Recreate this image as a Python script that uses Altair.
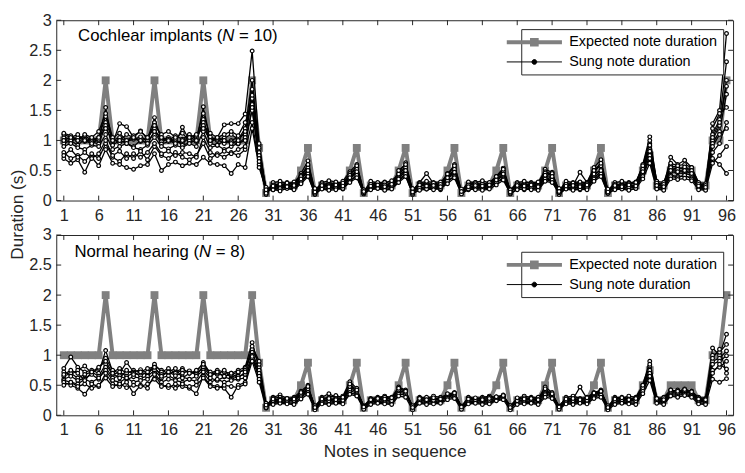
import altair as alt
import pandas as pd

# ---------------- data ----------------
notes = list(range(1, 97))

expected = [1, 1, 1, 1, 1, 1, 2, 1, 1, 1, 1, 1, 1, 2, 1, 1, 1, 1, 1, 1, 2, 1, 1, 1, 1, 1, 1, 2, 0.875, 0.125,
            0.25, 0.25, 0.25, 0.25, 0.5, 0.875, 0.125,
            0.25, 0.25, 0.25, 0.25, 0.5, 0.875, 0.125,
            0.25, 0.25, 0.25, 0.25, 0.5, 0.875, 0.125,
            0.25, 0.25, 0.25, 0.25, 0.5, 0.875, 0.125,
            0.25, 0.25, 0.25, 0.25, 0.5, 0.875, 0.125,
            0.25, 0.25, 0.25, 0.25, 0.5, 0.875, 0.125,
            0.25, 0.25, 0.25, 0.25, 0.5, 0.875, 0.125,
            0.25, 0.25, 0.25, 0.25, 0.5, 0.75, 0.25, 0.25, 0.5, 0.5, 0.5, 0.5, 0.25, 0.25, 1, 1, 2]

# Cochlear implant users (N = 10): sung durations, notes 1-96
ci_p01 = [1.05, 1.02, 1.00, 0.98, 1.04, 1.00, 1.55, 0.95, 1.28, 1.23, 1.05, 1.16, 1.02, 1.38, 1.00, 1.05, 0.95, 1.22, 1.00, 0.98, 1.56, 1.00, 1.05, 1.26, 1.28, 1.28, 1.44, 2.49, 0.92, 0.15,
          0.28, 0.25, 0.30, 0.26, 0.45, 0.66, 0.15, 0.25, 0.30, 0.27, 0.32, 0.48, 0.60, 0.14, 0.26, 0.28, 0.31, 0.27, 0.45, 0.63, 0.16,
          0.30, 0.45, 0.28, 0.26, 0.42, 0.60, 0.15, 0.27, 0.30, 0.25, 0.28, 0.40, 0.54, 0.17, 0.26, 0.29, 0.30, 0.27, 0.52, 0.47, 0.14,
          0.28, 0.25, 0.47, 0.30, 0.55, 0.68, 0.16, 0.28, 0.25, 0.30, 0.27, 0.60, 1.06, 0.30, 0.25, 0.72, 0.60, 0.67, 0.55, 0.28, 0.25, 1.28, 1.50, 2.78]
ci_p02 = [1.10, 1.05, 1.02, 1.08, 1.00, 1.05, 1.40, 1.00, 1.05, 0.98, 1.02, 1.06, 1.00, 1.30, 1.05, 1.00, 1.08, 1.02, 1.10, 1.04, 1.45, 1.06, 1.00, 1.04, 1.10, 1.02, 1.20, 2.00, 0.85, 0.18,
          0.25, 0.28, 0.24, 0.27, 0.40, 0.58, 0.12, 0.27, 0.25, 0.29, 0.26, 0.44, 0.55, 0.13, 0.25, 0.27, 0.25, 0.29, 0.42, 0.58, 0.14,
          0.26, 0.30, 0.25, 0.28, 0.45, 0.55, 0.12, 0.29, 0.26, 0.28, 0.25, 0.38, 0.50, 0.15, 0.27, 0.25, 0.28, 0.26, 0.45, 0.42, 0.13,
          0.25, 0.27, 0.30, 0.28, 0.48, 0.60, 0.14, 0.25, 0.28, 0.26, 0.30, 0.55, 0.95, 0.28, 0.26, 0.58, 0.55, 0.52, 0.50, 0.26, 0.24, 1.10, 1.35, 2.31]
ci_p03 = [1.00, 0.98, 1.05, 1.00, 0.95, 1.02, 1.30, 1.02, 0.96, 1.00, 1.04, 0.98, 1.05, 1.20, 0.98, 1.02, 1.00, 0.95, 1.05, 1.00, 1.35, 0.98, 1.02, 0.95, 1.00, 1.05, 1.10, 1.85, 0.80, 0.12,
          0.22, 0.25, 0.27, 0.24, 0.38, 0.52, 0.13, 0.24, 0.26, 0.23, 0.25, 0.40, 0.50, 0.12, 0.23, 0.25, 0.27, 0.24, 0.40, 0.52, 0.15,
          0.25, 0.27, 0.23, 0.26, 0.38, 0.50, 0.13, 0.24, 0.23, 0.26, 0.25, 0.35, 0.45, 0.14, 0.25, 0.24, 0.23, 0.26, 0.40, 0.38, 0.12,
          0.24, 0.26, 0.25, 0.23, 0.42, 0.52, 0.13, 0.24, 0.26, 0.25, 0.23, 0.50, 0.90, 0.26, 0.24, 0.52, 0.50, 0.48, 0.46, 0.24, 0.22, 1.00, 1.25, 2.00]
ci_p04 = [0.95, 1.00, 0.92, 1.02, 0.98, 0.94, 1.25, 0.92, 1.00, 0.95, 0.90, 1.00, 0.96, 1.15, 0.94, 0.98, 1.02, 0.92, 0.96, 1.00, 1.30, 0.95, 0.92, 1.00, 0.98, 0.94, 1.05, 1.70, 0.75, 0.20,
          0.20, 0.22, 0.25, 0.21, 0.35, 0.48, 0.14, 0.22, 0.20, 0.24, 0.22, 0.36, 0.46, 0.15, 0.21, 0.24, 0.22, 0.20, 0.38, 0.48, 0.13,
          0.22, 0.20, 0.23, 0.21, 0.36, 0.45, 0.14, 0.20, 0.22, 0.21, 0.23, 0.32, 0.42, 0.15, 0.22, 0.21, 0.20, 0.22, 0.38, 0.35, 0.13,
          0.21, 0.22, 0.20, 0.24, 0.38, 0.48, 0.15, 0.22, 0.20, 0.23, 0.21, 0.45, 0.85, 0.22, 0.20, 0.48, 0.46, 0.45, 0.42, 0.22, 0.20, 0.95, 1.15, 1.77]
ci_p05 = [1.12, 1.08, 1.00, 1.10, 1.05, 1.15, 1.45, 1.05, 1.12, 1.00, 1.08, 1.15, 1.05, 1.25, 1.10, 1.15, 1.05, 1.12, 1.00, 1.08, 1.25, 1.12, 1.05, 1.10, 1.15, 1.08, 1.30, 1.60, 0.95, 0.10,
          0.30, 0.32, 0.28, 0.31, 0.42, 0.55, 0.16, 0.30, 0.33, 0.31, 0.28, 0.45, 0.52, 0.15, 0.32, 0.29, 0.30, 0.33, 0.44, 0.55, 0.17,
          0.29, 0.32, 0.30, 0.31, 0.40, 0.52, 0.16, 0.31, 0.30, 0.33, 0.29, 0.38, 0.48, 0.18, 0.30, 0.32, 0.29, 0.31, 0.48, 0.44, 0.16,
          0.32, 0.30, 0.31, 0.29, 0.50, 0.58, 0.17, 0.30, 0.32, 0.29, 0.31, 0.58, 1.00, 0.32, 0.30, 0.62, 0.58, 0.60, 0.55, 0.30, 0.28, 1.20, 1.45, 1.55]
ci_p06 = [0.90, 0.95, 0.88, 0.85, 0.92, 0.90, 1.10, 0.85, 0.90, 0.95, 0.88, 0.85, 0.92, 1.05, 0.90, 0.86, 0.92, 0.88, 0.95, 0.90, 1.15, 0.88, 0.92, 0.85, 0.90, 0.95, 1.00, 1.50, 0.70, 0.22,
          0.18, 0.20, 0.22, 0.19, 0.32, 0.42, 0.10, 0.20, 0.18, 0.21, 0.19, 0.34, 0.40, 0.11, 0.19, 0.21, 0.18, 0.20, 0.33, 0.42, 0.10,
          0.20, 0.19, 0.21, 0.18, 0.32, 0.40, 0.12, 0.18, 0.20, 0.19, 0.21, 0.30, 0.38, 0.11, 0.19, 0.18, 0.20, 0.19, 0.35, 0.32, 0.10,
          0.20, 0.19, 0.18, 0.21, 0.35, 0.42, 0.12, 0.19, 0.21, 0.18, 0.20, 0.42, 0.75, 0.20, 0.18, 0.42, 0.40, 0.41, 0.38, 0.20, 0.18, 0.80, 0.95, 1.30]
ci_p07 = [1.00, 1.05, 1.10, 1.00, 0.95, 1.05, 1.20, 1.00, 1.00, 1.10, 1.05, 1.00, 0.95, 1.15, 1.05, 1.00, 0.95, 1.00, 1.05, 1.10, 1.20, 1.00, 1.05, 1.00, 0.95, 1.00, 1.15, 1.75, 0.88, 0.14,
          0.26, 0.24, 0.29, 0.27, 0.40, 0.60, 0.18, 0.28, 0.26, 0.24, 0.29, 0.42, 0.58, 0.16, 0.27, 0.30, 0.26, 0.25, 0.50, 0.60, 0.18,
          0.28, 0.25, 0.29, 0.27, 0.44, 0.58, 0.17, 0.26, 0.28, 0.27, 0.30, 0.40, 0.52, 0.16, 0.28, 0.26, 0.27, 0.25, 0.46, 0.45, 0.18,
          0.27, 0.29, 0.26, 0.28, 0.50, 0.62, 0.17, 0.27, 0.25, 0.28, 0.30, 0.52, 0.92, 0.29, 0.27, 0.55, 0.52, 0.56, 0.50, 0.27, 0.25, 1.05, 1.30, 1.90]
ci_p08 = [0.80, 0.70, 0.75, 0.65, 0.78, 0.70, 0.95, 0.72, 0.65, 0.78, 0.70, 0.82, 0.68, 0.90, 0.75, 0.70, 0.80, 0.72, 0.68, 0.75, 0.95, 0.70, 0.78, 0.72, 0.80, 0.75, 0.85, 1.30, 0.60, 0.15,
          0.22, 0.20, 0.24, 0.22, 0.30, 0.45, 0.20, 0.22, 0.24, 0.21, 0.23, 0.32, 0.42, 0.18, 0.23, 0.21, 0.22, 0.25, 0.35, 0.44, 0.20,
          0.21, 0.23, 0.22, 0.20, 0.33, 0.40, 0.19, 0.22, 0.21, 0.24, 0.22, 0.30, 0.36, 0.18, 0.21, 0.23, 0.22, 0.24, 0.36, 0.34, 0.20,
          0.22, 0.20, 0.23, 0.22, 0.36, 0.45, 0.19, 0.21, 0.23, 0.22, 0.24, 0.40, 0.70, 0.22, 0.21, 0.40, 0.38, 0.42, 0.36, 0.22, 0.20, 0.70, 0.60, 0.45]
ci_p09 = [0.70, 0.62, 0.68, 0.47, 0.72, 0.58, 0.85, 0.62, 0.60, 0.55, 0.52, 0.58, 0.60, 0.78, 0.50, 0.60, 0.64, 0.58, 0.62, 0.60, 0.72, 0.62, 0.60, 0.58, 0.45, 0.60, 0.55, 1.20, 0.55, 0.18,
          0.18, 0.16, 0.20, 0.18, 0.28, 0.40, 0.12, 0.19, 0.17, 0.18, 0.20, 0.30, 0.38, 0.13, 0.18, 0.20, 0.17, 0.19, 0.30, 0.40, 0.12,
          0.17, 0.19, 0.18, 0.20, 0.28, 0.38, 0.11, 0.19, 0.18, 0.17, 0.19, 0.26, 0.34, 0.12, 0.18, 0.19, 0.18, 0.17, 0.32, 0.30, 0.13,
          0.19, 0.17, 0.19, 0.18, 0.32, 0.40, 0.12, 0.18, 0.19, 0.17, 0.20, 0.36, 0.62, 0.19, 0.17, 0.36, 0.35, 0.37, 0.33, 0.18, 0.17, 0.62, 0.75, 0.90]
ci_p10 = [0.75, 0.85, 0.72, 0.80, 0.70, 0.78, 1.00, 0.75, 0.82, 0.70, 0.78, 0.72, 0.80, 0.95, 0.78, 0.82, 0.75, 0.80, 0.78, 0.72, 1.05, 0.80, 0.75, 0.82, 0.78, 0.85, 0.90, 1.55, 0.65, 0.12,
          0.24, 0.27, 0.23, 0.25, 0.36, 0.50, 0.14, 0.25, 0.23, 0.26, 0.24, 0.38, 0.48, 0.15, 0.24, 0.26, 0.23, 0.27, 0.36, 0.50, 0.14,
          0.26, 0.24, 0.25, 0.23, 0.38, 0.47, 0.15, 0.23, 0.25, 0.24, 0.26, 0.34, 0.44, 0.14, 0.25, 0.24, 0.26, 0.23, 0.42, 0.40, 0.15,
          0.24, 0.25, 0.23, 0.26, 0.44, 0.50, 0.14, 0.25, 0.23, 0.26, 0.24, 0.48, 0.82, 0.25, 0.23, 0.50, 0.48, 0.50, 0.45, 0.24, 0.22, 0.90, 1.10, 1.20]

# Normal hearing listeners (N = 8): sung durations, notes 1-96
nh_p01 = [0.78, 0.97, 0.80, 0.72, 0.75, 0.70, 1.08, 0.72, 0.78, 0.70, 0.75, 0.72, 0.68, 0.82, 0.75, 0.70, 0.72, 0.78, 0.70, 0.72, 0.88, 0.70, 0.75, 0.72, 0.70, 0.75, 0.80, 1.21, 0.80, 0.15,
          0.30, 0.34, 0.28, 0.30, 0.40, 0.50, 0.12, 0.30, 0.36, 0.30, 0.32, 0.56, 0.45, 0.14, 0.28, 0.30, 0.32, 0.30, 0.47, 0.42, 0.13,
          0.30, 0.28, 0.32, 0.30, 0.35, 0.38, 0.14, 0.30, 0.28, 0.30, 0.32, 0.30, 0.34, 0.15, 0.28, 0.32, 0.30, 0.28, 0.47, 0.38, 0.14,
          0.30, 0.32, 0.28, 0.30, 0.38, 0.42, 0.13, 0.30, 0.28, 0.32, 0.30, 0.50, 0.90, 0.28, 0.30, 0.42, 0.40, 0.44, 0.40, 0.30, 0.28, 1.12, 1.00, 1.35]
nh_p02 = [0.72, 0.68, 0.75, 0.82, 0.70, 0.78, 0.95, 0.75, 0.70, 0.88, 0.72, 0.76, 0.70, 0.85, 0.72, 0.78, 0.70, 0.75, 0.72, 0.68, 0.82, 0.72, 0.68, 0.75, 0.62, 0.70, 0.78, 1.10, 0.85, 0.12,
          0.28, 0.30, 0.26, 0.28, 0.36, 0.45, 0.15, 0.28, 0.30, 0.33, 0.29, 0.50, 0.40, 0.16, 0.27, 0.29, 0.30, 0.28, 0.44, 0.40, 0.14,
          0.28, 0.30, 0.27, 0.29, 0.33, 0.36, 0.15, 0.29, 0.27, 0.28, 0.30, 0.30, 0.32, 0.16, 0.27, 0.29, 0.28, 0.30, 0.40, 0.35, 0.15,
          0.29, 0.27, 0.47, 0.28, 0.36, 0.40, 0.14, 0.28, 0.30, 0.27, 0.29, 0.48, 0.80, 0.27, 0.29, 0.40, 0.42, 0.38, 0.40, 0.28, 0.27, 1.00, 1.05, 1.18]
nh_p03 = [0.65, 0.70, 0.62, 0.68, 0.72, 0.65, 0.85, 0.68, 0.72, 0.65, 0.70, 0.66, 0.72, 0.78, 0.68, 0.72, 0.66, 0.70, 0.74, 0.68, 0.80, 0.66, 0.70, 0.65, 0.68, 0.72, 0.75, 1.05, 0.75, 0.18,
          0.25, 0.27, 0.24, 0.26, 0.34, 0.42, 0.12, 0.26, 0.25, 0.28, 0.26, 0.45, 0.38, 0.13, 0.25, 0.27, 0.26, 0.28, 0.40, 0.38, 0.12,
          0.26, 0.25, 0.27, 0.26, 0.32, 0.34, 0.13, 0.27, 0.25, 0.26, 0.25, 0.28, 0.31, 0.12, 0.26, 0.25, 0.27, 0.26, 0.38, 0.33, 0.13,
          0.25, 0.27, 0.26, 0.25, 0.34, 0.38, 0.12, 0.26, 0.25, 0.27, 0.26, 0.45, 0.75, 0.26, 0.25, 0.38, 0.37, 0.39, 0.36, 0.26, 0.25, 0.90, 0.95, 1.07]
nh_p04 = [0.60, 0.65, 0.58, 0.62, 0.68, 0.60, 0.80, 0.62, 0.66, 0.60, 0.64, 0.62, 0.65, 0.75, 0.62, 0.66, 0.60, 0.64, 0.60, 0.65, 0.75, 0.62, 0.58, 0.64, 0.60, 0.65, 0.68, 1.00, 0.70, 0.14,
          0.22, 0.24, 0.23, 0.25, 0.32, 0.40, 0.10, 0.23, 0.25, 0.22, 0.24, 0.42, 0.36, 0.11, 0.24, 0.22, 0.25, 0.23, 0.38, 0.36, 0.10,
          0.23, 0.24, 0.22, 0.25, 0.30, 0.33, 0.11, 0.22, 0.24, 0.23, 0.22, 0.27, 0.30, 0.10, 0.24, 0.23, 0.22, 0.25, 0.36, 0.32, 0.11,
          0.23, 0.22, 0.24, 0.23, 0.32, 0.36, 0.10, 0.22, 0.24, 0.23, 0.25, 0.42, 0.70, 0.24, 0.22, 0.36, 0.35, 0.37, 0.34, 0.24, 0.22, 0.85, 0.90, 0.99]
nh_p05 = [0.58, 0.55, 0.52, 0.60, 0.55, 0.62, 0.75, 0.58, 0.55, 0.62, 0.55, 0.58, 0.60, 0.70, 0.55, 0.60, 0.58, 0.55, 0.60, 0.56, 0.72, 0.55, 0.60, 0.55, 0.58, 0.60, 0.62, 0.95, 0.65, 0.20,
          0.20, 0.22, 0.21, 0.20, 0.30, 0.38, 0.14, 0.21, 0.20, 0.22, 0.21, 0.38, 0.34, 0.13, 0.20, 0.22, 0.21, 0.20, 0.35, 0.34, 0.14,
          0.22, 0.20, 0.21, 0.22, 0.28, 0.30, 0.13, 0.21, 0.22, 0.20, 0.21, 0.25, 0.28, 0.14, 0.20, 0.21, 0.22, 0.20, 0.34, 0.30, 0.13,
          0.21, 0.20, 0.22, 0.21, 0.30, 0.34, 0.14, 0.20, 0.22, 0.21, 0.20, 0.40, 0.65, 0.22, 0.20, 0.34, 0.33, 0.35, 0.32, 0.21, 0.20, 0.75, 0.80, 0.90]
nh_p06 = [0.55, 0.50, 0.45, 0.35, 0.52, 0.48, 0.70, 0.52, 0.48, 0.55, 0.36, 0.50, 0.45, 0.68, 0.50, 0.46, 0.52, 0.48, 0.45, 0.36, 0.65, 0.50, 0.48, 0.45, 0.30, 0.50, 0.55, 0.98, 0.60, 0.16,
          0.18, 0.20, 0.19, 0.18, 0.27, 0.35, 0.09, 0.19, 0.18, 0.20, 0.19, 0.35, 0.32, 0.10, 0.18, 0.20, 0.19, 0.18, 0.32, 0.30, 0.09,
          0.20, 0.18, 0.19, 0.20, 0.26, 0.28, 0.10, 0.19, 0.20, 0.18, 0.19, 0.24, 0.26, 0.09, 0.18, 0.19, 0.20, 0.18, 0.30, 0.28, 0.10,
          0.19, 0.18, 0.20, 0.19, 0.28, 0.30, 0.09, 0.18, 0.20, 0.19, 0.18, 0.36, 0.58, 0.20, 0.18, 0.32, 0.30, 0.33, 0.30, 0.19, 0.18, 0.60, 0.55, 0.61]
nh_p07 = [0.50, 0.55, 0.48, 0.52, 0.45, 0.50, 0.62, 0.48, 0.52, 0.46, 0.50, 0.48, 0.52, 0.60, 0.48, 0.50, 0.45, 0.52, 0.48, 0.50, 0.62, 0.48, 0.45, 0.50, 0.48, 0.46, 0.52, 0.90, 0.55, 0.13,
          0.24, 0.26, 0.25, 0.24, 0.35, 0.44, 0.16, 0.25, 0.24, 0.26, 0.25, 0.48, 0.40, 0.15, 0.24, 0.26, 0.25, 0.24, 0.42, 0.38, 0.16,
          0.26, 0.24, 0.25, 0.26, 0.34, 0.35, 0.15, 0.25, 0.26, 0.24, 0.25, 0.30, 0.32, 0.16, 0.24, 0.25, 0.26, 0.24, 0.42, 0.34, 0.15,
          0.25, 0.24, 0.26, 0.25, 0.36, 0.40, 0.16, 0.24, 0.26, 0.25, 0.24, 0.46, 0.82, 0.26, 0.24, 0.40, 0.38, 0.41, 0.37, 0.25, 0.24, 0.70, 0.85, 0.77]
nh_p08 = [0.68, 0.75, 0.70, 0.58, 0.72, 0.80, 0.90, 0.70, 0.62, 0.75, 0.68, 0.72, 0.78, 0.80, 0.65, 0.72, 0.78, 0.62, 0.70, 0.75, 0.85, 0.68, 0.72, 0.65, 0.70, 0.62, 0.72, 1.15, 0.90, 0.17,
          0.27, 0.25, 0.28, 0.27, 0.38, 0.48, 0.13, 0.27, 0.28, 0.26, 0.30, 0.52, 0.42, 0.14, 0.26, 0.28, 0.27, 0.29, 0.45, 0.40, 0.13,
          0.28, 0.26, 0.29, 0.27, 0.36, 0.37, 0.14, 0.27, 0.29, 0.26, 0.28, 0.31, 0.33, 0.13, 0.29, 0.27, 0.28, 0.26, 0.44, 0.36, 0.14,
          0.27, 0.28, 0.26, 0.29, 0.37, 0.40, 0.13, 0.27, 0.29, 0.26, 0.28, 0.50, 0.85, 0.28, 0.26, 0.42, 0.40, 0.43, 0.39, 0.27, 0.26, 0.95, 1.10, 0.70]

ci_group = [ci_p01, ci_p02, ci_p03, ci_p04, ci_p05, ci_p06, ci_p07, ci_p08, ci_p09, ci_p10]
nh_group = [nh_p01, nh_p02, nh_p03, nh_p04, nh_p05, nh_p06, nh_p07, nh_p08]

x_ticks = [1, 6, 11, 16, 21, 26, 31, 36, 41, 46, 51, 56, 61, 66, 71, 76, 81, 86, 91, 96]
y_ticks = [0, 0.5, 1, 1.5, 2, 2.5, 3]
legend_labels = ["Expected note duration", "Sung note duration"]
ci_label = ["Cochlear implants (", "N", " = 10)"]
nh_label = ["Normal hearing (", "N", " = 8)"]

# ---------------- styling ----------------
FONT = "Liberation Sans"
AX = "#262626"
GRAY = "#808080"
W, H = 687, 183
TICK = 5

EXP_PATH = "M-7,0H7M-0.6,-0.6H0.6V0.6H-0.6Z"
SUNG_PATH = "M-7,0H7M-0.6,0A0.6,0.6 0 1,0 0.6,0A0.6,0.6 0 1,0 -0.6,0Z"


def make_panel(group, label, n_x, label_y, show_xtitle, show_ytitle, leg_y):
    exp_df = pd.DataFrame({"note": notes, "dur": expected})
    rows = []
    for pid, vals in enumerate(group):
        for n, v in zip(notes, vals):
            rows.append({"note": n, "dur": v, "pid": pid})
    sung_df = pd.DataFrame(rows)

    xscale = alt.Scale(domain=[-0.08, 96.94], nice=False, zero=False)
    yscale = alt.Scale(domain=[0, 3], nice=False)
    if show_xtitle:
        xaxis = alt.Axis(values=x_ticks, title="Notes in sequence", labelPadding=7, titlePadding=4)
    else:
        xaxis = alt.Axis(values=x_ticks, title=None, labelPadding=7)
    if show_ytitle:
        yaxis = alt.Axis(values=y_ticks, format="~g", title="Duration (s)", labelPadding=5,
                         titlePadding=2, titleY=197)
    else:
        yaxis = alt.Axis(values=y_ticks, format="~g", title=None, labelPadding=5)

    def X(f):
        return alt.X(f"{f}:Q", scale=xscale, axis=xaxis)

    def Y(f):
        return alt.Y(f"{f}:Q", scale=yscale, axis=yaxis)

    exp_line = alt.Chart(exp_df).mark_line(color=GRAY, strokeWidth=4).encode(x=X("note"), y=Y("dur"))
    exp_pts = alt.Chart(exp_df).mark_square(size=64, color=GRAY, opacity=1).encode(x=X("note"), y=Y("dur"))
    sung_line = alt.Chart(sung_df).mark_line(color="black", strokeWidth=1.3).encode(
        x=X("note"), y=Y("dur"), detail="pid:N")
    sung_pts = alt.Chart(sung_df).mark_circle(size=14, fill="white", stroke="black", strokeWidth=1.2,
                                              opacity=1, fillOpacity=1).encode(x=X("note"), y=Y("dur"))

    xt = pd.DataFrame({"note": x_ticks})
    yt = pd.DataFrame({"dur": y_ticks})
    tick_b = alt.Chart(xt).mark_rule(color=AX, strokeWidth=1).encode(
        x=X("note"), y=alt.value(H), y2=alt.value(H - TICK))
    tick_t = alt.Chart(xt).mark_rule(color=AX, strokeWidth=1).encode(
        x=X("note"), y=alt.value(0), y2=alt.value(TICK))
    tick_l = alt.Chart(yt).mark_rule(color=AX, strokeWidth=1).encode(
        y=Y("dur"), x=alt.value(0), x2=alt.value(TICK))
    tick_r = alt.Chart(yt).mark_rule(color=AX, strokeWidth=1).encode(
        y=Y("dur"), x=alt.value(W), x2=alt.value(W - TICK))

    lab = pd.DataFrame({"t": label})
    t1 = alt.Chart(lab).transform_filter(alt.datum.t == label[0]).mark_text(
        font=FONT, fontSize=17, color="black", align="right", baseline="middle").encode(
        text="t:N", x=alt.value(n_x), y=alt.value(label_y))
    t2 = alt.Chart(lab).transform_filter(alt.datum.t == label[1]).mark_text(
        font=FONT, fontSize=17, fontStyle="italic", color="black", align="left", baseline="middle").encode(
        text="t:N", x=alt.value(n_x), y=alt.value(label_y))
    t3 = alt.Chart(lab).transform_filter(alt.datum.t == label[2]).mark_text(
        font=FONT, fontSize=17, color="black", align="left", baseline="middle").encode(
        text="t:N", x=alt.value(n_x + 17), y=alt.value(label_y))

    leg_df = pd.DataFrame({"series": legend_labels})
    legend = alt.Legend(title=None, orient="none", legendX=472, legendY=leg_y,
                        strokeColor=AX, fillColor="white", padding=6, cornerRadius=0,
                        labelFont=FONT, labelFontSize=14.6, labelColor="black",
                        symbolSize=64, labelOffset=28, rowPadding=1)
    leg = alt.Chart(leg_df).transform_filter("false").mark_point(size=64, opacity=1).encode(
        shape=alt.Shape("series:N", scale=alt.Scale(domain=legend_labels, range=[EXP_PATH, SUNG_PATH]),
                        legend=legend),
        stroke=alt.Stroke("series:N", scale=alt.Scale(domain=legend_labels, range=[GRAY, "black"]),
                          legend=legend),
        fill=alt.Fill("series:N", scale=alt.Scale(domain=legend_labels, range=[GRAY, "black"]),
                      legend=legend),
        strokeWidth=alt.StrokeWidth("series:N", scale=alt.Scale(type="ordinal", domain=legend_labels,
                                                                 range=[4, 1]), legend=legend),
    )

    return alt.layer(exp_line, exp_pts, sung_line, sung_pts, tick_b, tick_t, tick_l, tick_r,
                     t1, t2, t3, leg).properties(width=W, height=H)


top = make_panel(ci_group, ci_label, 168.5, 16, False, True, 9)
bottom = make_panel(nh_group, nh_label, 145, 17, True, False, 17)

chart = alt.vconcat(top, bottom, spacing=35, bounds="flush").resolve_scale(
    shape="independent", stroke="independent", fill="independent", strokeWidth="independent"
).resolve_legend(
    shape="independent", stroke="independent", fill="independent", strokeWidth="independent"
).properties(padding=0).configure_view(stroke=AX, strokeWidth=1).configure_axis(
    labelFont=FONT, labelFontSize=16.5, labelColor=AX, titleFont=FONT, titleFontSize=17.5,
    titleColor=AX, titleFontWeight="normal", ticks=False, domain=False, grid=False
)

chart.save("out.html", embed_options={"renderer": "svg", "actions": False})
